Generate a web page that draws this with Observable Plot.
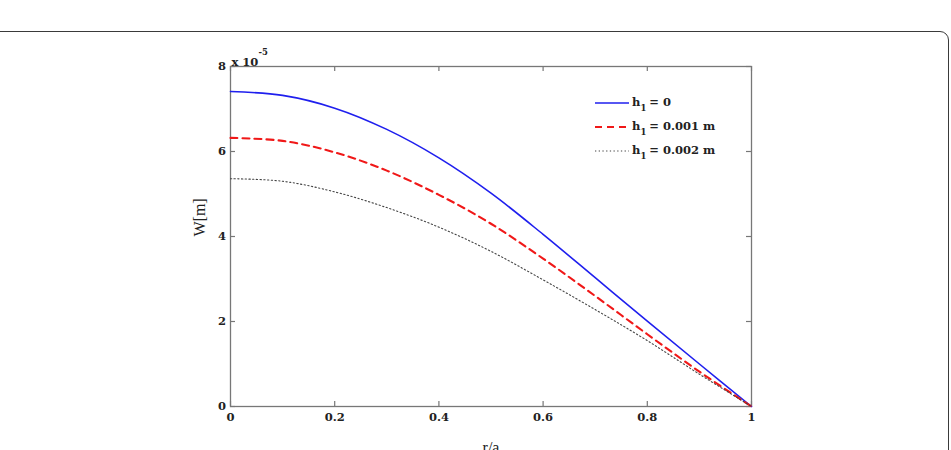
<!DOCTYPE html>
<html>
<head>
<meta charset="utf-8">
<script src="https://cdn.jsdelivr.net/npm/d3@7"></script>
<script src="https://cdn.jsdelivr.net/npm/@observablehq/plot@0.6"></script>
<style>
  html, body { margin: 0; padding: 0; background: #fff; overflow: hidden; }
  #wrap { position: relative; width: 951px; height: 450px; overflow: hidden; }
  #card { position: absolute; left: -14px; top: 31px; width: 963px; height: 520px;
          border: 1.6px solid #3a3a3a; border-radius: 9px; box-sizing: border-box; }
  #chart { position: absolute; left: 0; top: 0; }
</style>
</head>
<body>
<div id="wrap">
  <div id="card"></div>
  <div id="chart"></div>
</div>
<script>
// Normalised radius r/a
const rA = [0, 0.1, 0.2, 0.3, 0.4, 0.5, 0.6, 0.7, 0.8, 0.9, 1.0];
// Deflection W (units of 1e-5 m) for each thickness h1
const wH0    = [7.41, 7.32, 7.02, 6.52, 5.85, 5.02, 4.05, 3.03, 2.01, 1.00, 0];
const wH0001 = [6.32, 6.25, 5.98, 5.55, 4.98, 4.30, 3.48, 2.60, 1.70, 0.82, 0];
const wH0002 = [5.36, 5.30, 5.05, 4.68, 4.22, 3.65, 2.98, 2.28, 1.55, 0.76, 0];

const seriesNames = ["h1 = 0", "h1 = 0.001 m", "h1 = 0.002 m"];
const seriesValues = [wH0, wH0001, wH0002];

const xTicks = [0, 0.2, 0.4, 0.6, 0.8, 1];
const yTicks = [0, 2, 4, 6, 8];

const styles = [
  {stroke: "#1f1fee", strokeWidth: 1.6, dash: null},
  {stroke: "#f01818", strokeWidth: 2.1, dash: "7,5"},
  {stroke: "#444",    strokeWidth: 1.1, dash: "1.3,2.4"}
];

const rows = seriesNames.flatMap((name, i) =>
  rA.map((r, j) => ({series: name, r, w: seriesValues[i][j]})));

const tickFont = "'DejaVu Serif', 'Liberation Serif', serif";
const labelFont = "'Liberation Serif', 'Times New Roman', serif";
const innerH = 450 - 66 - 44;
const innerW = 951 - 230 - 200;

const chart = Plot.plot({
  width: 951,
  height: 450,
  marginLeft: 230,
  marginRight: 200,
  marginTop: 66,
  marginBottom: 44,
  style: {background: "transparent", fontFamily: tickFont, fontSize: "11.5px", fontWeight: "bold", color: "#222"},
  x: {domain: [0, 1]},
  y: {domain: [0, 8]},
  marks: [
    // inward ticks on all four sides
    Plot.tickX(xTicks, {x: d => d, insetTop: innerH - 5, stroke: "#777", strokeWidth: 1.2}),
    Plot.tickX(xTicks, {x: d => d, insetBottom: innerH - 5, stroke: "#777", strokeWidth: 1.2}),
    Plot.tickY(yTicks, {y: d => d, insetRight: innerW - 5, stroke: "#777", strokeWidth: 1.2}),
    Plot.tickY(yTicks, {y: d => d, insetLeft: innerW - 5, stroke: "#777", strokeWidth: 1.2}),
    Plot.frame({stroke: "#777", strokeWidth: 1.3}),
    Plot.axisX({ticks: xTicks, tickSize: 0, tickPadding: 6, tickFormat: d => String(d), label: null}),
    Plot.axisY({ticks: yTicks, tickSize: 0, tickPadding: 4.5, tickFormat: d => String(d), label: null}),
    // curves
    ...seriesNames.map((name, i) =>
      Plot.line(rows.filter(d => d.series === name), {
        x: "r", y: "w", curve: "catmull-rom",
        stroke: styles[i].stroke, strokeWidth: styles[i].strokeWidth,
        strokeDasharray: styles[i].dash
      })),
    // axis titles
    Plot.text(["r/a"], {frameAnchor: "bottom", dy: 46, fontFamily: labelFont, fontSize: 16, fontWeight: "normal", fill: "#222"}),
    Plot.text(["W[m]"], {frameAnchor: "left", dx: -31, rotate: -90, fontFamily: labelFont, fontSize: 16, fontWeight: "normal", fill: "#222"}),
    // exponent
    Plot.text(["x 10"], {frameAnchor: "top-left", textAnchor: "start", dx: 1, dy: -9, fill: "#222"}),
    Plot.text(["-5"], {frameAnchor: "top-left", textAnchor: "start", dx: 28, dy: -18, fontSize: 8.5, fill: "#222"})
  ]
});

// legend (no box), drawn inside the plot area
const svg = d3.select(chart);
const legend = svg.append("g")
  .attr("font-family", tickFont).attr("font-size", 11.5).attr("font-weight", "bold")
  .attr("fill", "#222").attr("text-anchor", "start");
seriesNames.forEach((name, i) => {
  const y = 103 + i * 24;
  legend.append("line")
    .attr("x1", 595).attr("x2", 629).attr("y1", y).attr("y2", y)
    .attr("stroke", styles[i].stroke).attr("stroke-width", styles[i].strokeWidth)
    .attr("stroke-dasharray", styles[i].dash);
  const t = legend.append("text").attr("x", 632).attr("y", y + 3);
  t.append("tspan").text(name.slice(0, 1));
  t.append("tspan").attr("dy", 5).attr("font-size", 8.5).text(name.slice(1, 2));
  t.append("tspan").attr("dy", -5).attr("dx", 3).text(name.slice(3));
});

document.getElementById("chart").appendChild(chart);
</script>
</body>
</html>
